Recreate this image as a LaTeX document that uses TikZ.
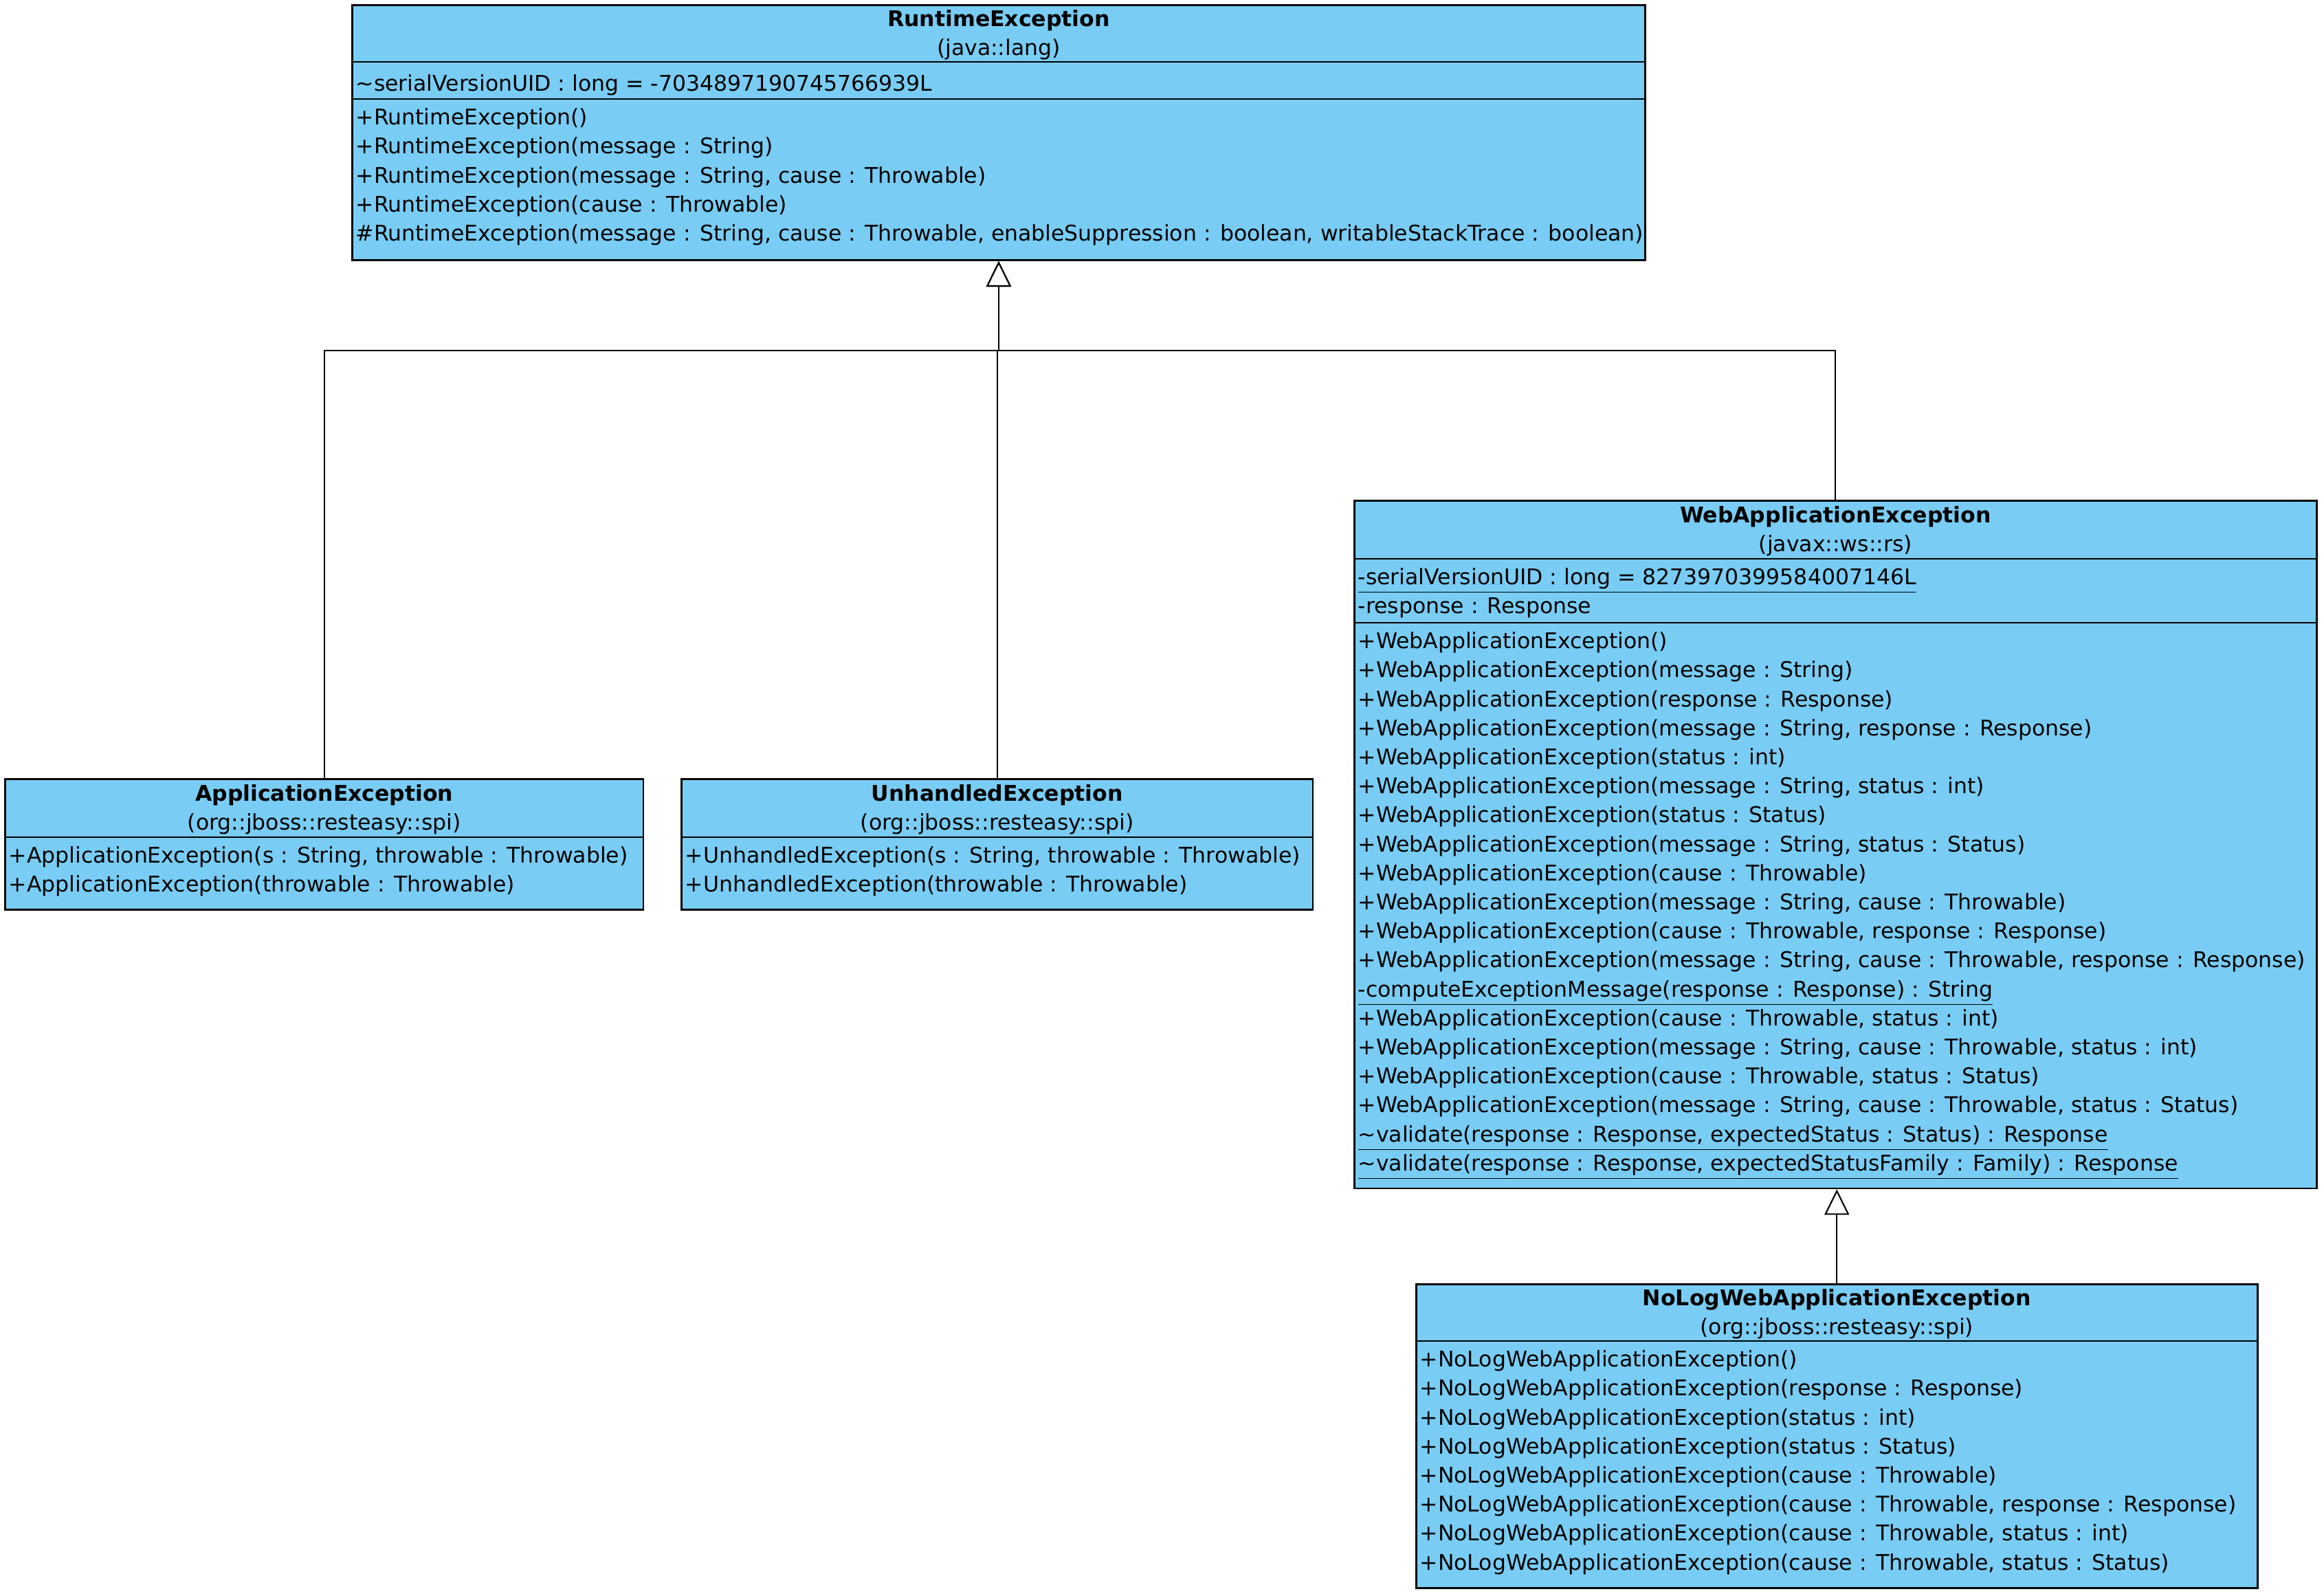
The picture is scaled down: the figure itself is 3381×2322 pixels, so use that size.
\documentclass[tikz,border=0pt]{standalone}
\usepackage{fontspec}
\setmainfont{DejaVu Sans}
\usepackage{xcolor}
\usepackage{tikz}
\usetikzlibrary{positioning,arrows.meta,calc}
\definecolor{classblue}{RGB}{121,205,244}

\begin{document}
\begin{tikzpicture}[
    x=0.01cm, y=-0.01cm,
    font=\fontsize{8.95}{12}\selectfont,
    classbox/.style={draw, line width=0.8pt, fill=classblue, inner sep=0pt, anchor=north west},
    classhead/.style={align=center, inner sep=0pt, execute at begin node=\strut, execute at end node=\strut},
    members/.style={anchor=north west, align=left, inner sep=0pt, execute at begin node=\strut},
    separator/.style={line width=0.8pt},
    inherit/.style={line width=0.6pt, -{Triangle[open, length=0.37cm, width=0.36cm, fill=white]}},
  ]
  \useasboundingbox (0,0) rectangle (3381,2322);
  % class boxes
  \node[classbox, minimum width=18.80cm, minimum height=3.71cm] (rte) at (511,6) {};
  \node[classbox, minimum width=9.28cm, minimum height=1.90cm] (app) at (6,1132) {};
  \node[classbox, minimum width=9.18cm, minimum height=1.90cm] (unh) at (990,1132) {};
  \node[classbox, minimum width=13.99cm, minimum height=10.00cm] (wae) at (1969,727) {};
  \node[classbox, minimum width=12.23cm, minimum height=4.42cm] (nolog) at (2059,1867) {};
  % compartments
  \draw[separator] ($(rte.north west)+(0,84)$) -- ($(rte.north east)+(0,84)$);
  \draw[separator] ($(rte.north west)+(0,138)$) -- ($(rte.north east)+(0,138)$);
  \draw[separator] ($(app.north west)+(0,86)$) -- ($(app.north east)+(0,86)$);
  \draw[separator] ($(unh.north west)+(0,86)$) -- ($(unh.north east)+(0,86)$);
  \draw[separator] ($(wae.north west)+(0,86)$) -- ($(wae.north east)+(0,86)$);
  \draw[separator] ($(wae.north west)+(0,179)$) -- ($(wae.north east)+(0,179)$);
  \draw[separator] ($(nolog.north west)+(0,84)$) -- ($(nolog.north east)+(0,84)$);
  % RuntimeException
  \node[classhead] (rtehead) at ($(rte.north)+(0,48)$) {\textbf{RuntimeException}\\(java::lang)};
  \node[members] (rteattr) at ($(rte.north west)+(6,96.5)$) {\underline{\textasciitilde serialVersionUID : long = -7034897190745766939L}};
  \node[members] (rteops) at ($(rte.north west)+(6,151)$) {+RuntimeException()\\
    +RuntimeException(message : String)\\
    +RuntimeException(message : String, cause : Throwable)\\
    +RuntimeException(cause : Throwable)\\
    \#RuntimeException(message : String, cause : Throwable, enableSuppression : boolean, writableStackTrace : boolean)};
  % ApplicationException
  \node[classhead] (apphead) at ($(app.north)+(0,49)$) {\textbf{ApplicationException}\\(org::jboss::resteasy::spi)};
  \node[members] (appops) at ($(app.north west)+(6,98.5)$) {+ApplicationException(s : String, throwable : Throwable)\\
    +ApplicationException(throwable : Throwable)};
  % UnhandledException
  \node[classhead] (unhhead) at ($(unh.north)+(0,49)$) {\textbf{UnhandledException}\\(org::jboss::resteasy::spi)};
  \node[members] (unhops) at ($(unh.north west)+(6,98.5)$) {+UnhandledException(s : String, throwable : Throwable)\\
    +UnhandledException(throwable : Throwable)};
  % WebApplicationException
  \node[classhead] (waehead) at ($(wae.north)+(0,49)$) {\textbf{WebApplicationException}\\(javax::ws::rs)};
  \node[members] (waeattr) at ($(wae.north west)+(6,98.5)$) {\underline{-serialVersionUID : long = 8273970399584007146L}\\
    -response : Response};
  \node[members] (waeops) at ($(wae.north west)+(6,192)$) {+WebApplicationException()\\
    +WebApplicationException(message : String)\\
    +WebApplicationException(response : Response)\\
    +WebApplicationException(message : String, response : Response)\\
    +WebApplicationException(status : int)\\
    +WebApplicationException(message : String, status : int)\\
    +WebApplicationException(status : Status)\\
    +WebApplicationException(message : String, status : Status)\\
    +WebApplicationException(cause : Throwable)\\
    +WebApplicationException(message : String, cause : Throwable)\\
    +WebApplicationException(cause : Throwable, response : Response)\\
    +WebApplicationException(message : String, cause : Throwable, response : Response)\\
    \underline{-computeExceptionMessage(response : Response) : String}\\
    +WebApplicationException(cause : Throwable, status : int)\\
    +WebApplicationException(message : String, cause : Throwable, status : int)\\
    +WebApplicationException(cause : Throwable, status : Status)\\
    +WebApplicationException(message : String, cause : Throwable, status : Status)\\
    \underline{\textasciitilde validate(response : Response, expectedStatus : Status) : Response}\\
    \underline{\textasciitilde validate(response : Response, expectedStatusFamily : Family) : Response}};
  % NoLogWebApplicationException
  \node[classhead] (nologhead) at ($(nolog.north)+(0,48)$) {\textbf{NoLogWebApplicationException}\\(org::jboss::resteasy::spi)};
  \node[members] (nologops) at ($(nolog.north west)+(6,97)$) {+NoLogWebApplicationException()\\
    +NoLogWebApplicationException(response : Response)\\
    +NoLogWebApplicationException(status : int)\\
    +NoLogWebApplicationException(status : Status)\\
    +NoLogWebApplicationException(cause : Throwable)\\
    +NoLogWebApplicationException(cause : Throwable, response : Response)\\
    +NoLogWebApplicationException(cause : Throwable, status : int)\\
    +NoLogWebApplicationException(cause : Throwable, status : Status)};
  % generalizations
  \coordinate (bus) at ($(rte.south)+(0,130)$);
  \draw[inherit] (app.north) |- (bus) -- (rte.south);
  \draw[inherit] (unh.north) |- (bus) -- (rte.south);
  \draw[inherit] (wae.north) |- (bus) -- (rte.south);
  \draw[inherit] (nolog.north) -- (nolog.north |- wae.south);
\end{tikzpicture}
\end{document}
